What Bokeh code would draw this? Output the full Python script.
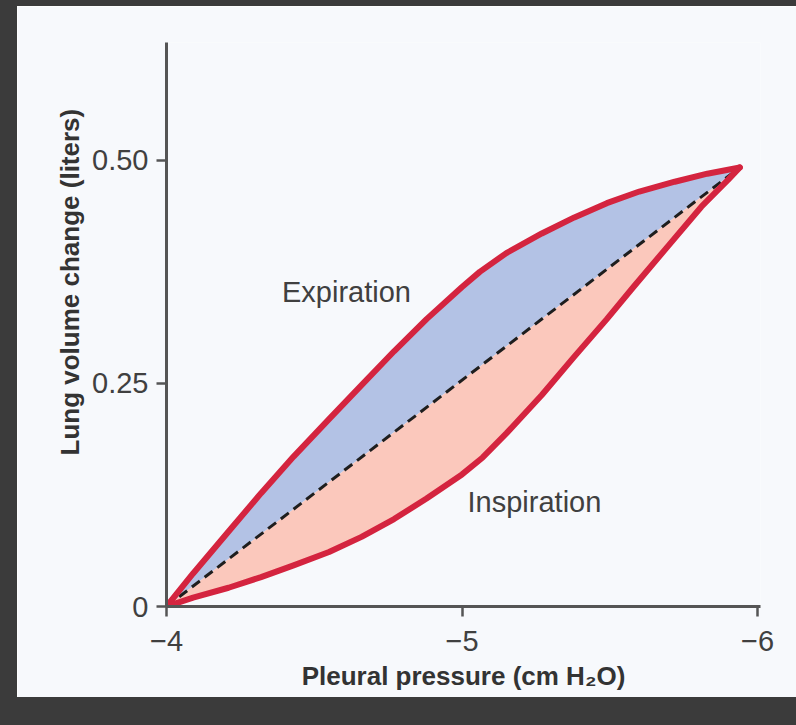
from bokeh.plotting import figure
from bokeh.models import Range1d, FixedTicker, Label, Spacer, Title
from bokeh.layouts import row, column
from bokeh.embed import file_html
from bokeh.resources import INLINE

# ---- data ----
# Expiration branch (upper loop), pleural pressure (cm H2O) vs lung volume change (L)
exp_x = [-4.00, -4.09, -4.21, -4.32, -4.43, -4.55, -4.66, -4.77, -4.88, -5.00,
         -5.06, -5.15, -5.27, -5.38, -5.49, -5.60, -5.72, -5.83, -5.94]
exp_y = [0.000, 0.037, 0.084, 0.127, 0.168, 0.210, 0.248, 0.286, 0.322, 0.358,
         0.375, 0.396, 0.418, 0.436, 0.452, 0.465, 0.476, 0.485, 0.492]
# Inspiration branch (lower loop)
insp_x = [-4.00, -4.09, -4.21, -4.32, -4.43, -4.55, -4.66, -4.77, -4.88, -5.00,
          -5.07, -5.15, -5.27, -5.38, -5.49, -5.58, -5.70, -5.81, -5.90, -5.94]
insp_y = [0.000, 0.010, 0.021, 0.033, 0.046, 0.061, 0.078, 0.098, 0.121, 0.148,
          0.167, 0.194, 0.237, 0.280, 0.322, 0.358, 0.405, 0.448, 0.478, 0.492]

x_ticks = [-4, -5, -6]
x_tick_labels = ["\u22124", "\u22125", "\u22126"]
y_ticks = [0, 0.25, 0.5]
y_tick_labels = ["0", "0.25", "0.50"]

x_title = "Pleural pressure (cm H\u2082O)"
y_title = "Lung volume change (liters)"
label_exp = "Expiration"
label_insp = "Inspiration"

# ---- style ----
PANEL = "#f7f9fc"
DARK = "#3b3b3b"
RED = "#d4243f"
BLUE = "#b3c2e5"
PINK = "#fbc8bc"
AXIS = "#555555"
TXT = "#404040"
FONT = "Liberation Sans"

p = figure(width=779, height=691, output_backend="svg", toolbar_location=None,
           x_range=Range1d(-4, -6.01), y_range=Range1d(0, 0.632),
           min_border_left=149, min_border_right=36, min_border_top=36, min_border_bottom=91,
           background_fill_color=PANEL, border_fill_color=PANEL, outline_line_color=None)
p.grid.visible = False

# filled halves of the loop (closed back along the straight chord)
p.patch(exp_x + [exp_x[0]], exp_y + [exp_y[0]], fill_color=BLUE, line_color=None)
p.patch(insp_x + [insp_x[0]], insp_y + [insp_y[0]], fill_color=PINK, line_color=None)

# dashed chord
p.line([exp_x[0], exp_x[-1]], [exp_y[0], exp_y[-1]], line_color="#1e1e1e",
       line_width=3, line_dash="10 6")

# red boundary curves
p.line(exp_x, exp_y, line_color=RED, line_width=6, line_join="round", line_cap="round")
p.line(insp_x, insp_y, line_color=RED, line_width=6, line_join="round", line_cap="round")

# axes
for ax in (p.xaxis[0], p.yaxis[0]):
    ax.axis_line_color = AXIS
    ax.axis_line_width = 3
    ax.major_tick_line_color = AXIS
    ax.major_tick_line_width = 2.5
    ax.major_tick_in = 0
    ax.major_tick_out = 10
    ax.minor_tick_line_color = None
    ax.major_label_text_font = FONT
    ax.major_label_text_font_size = "29px"
    ax.major_label_text_color = TXT

p.xaxis.ticker = FixedTicker(ticks=x_ticks)
p.xaxis.major_label_overrides = dict(zip(x_ticks, x_tick_labels))
p.xaxis.major_label_standoff = 14
p.xaxis.axis_label = x_title
p.xaxis.axis_label_text_font = FONT
p.xaxis.axis_label_text_font_style = "bold"
p.xaxis.axis_label_text_font_size = "26px"
p.xaxis.axis_label_text_color = "#333333"
p.xaxis.axis_label_standoff = 7

p.yaxis.ticker = FixedTicker(ticks=y_ticks)
p.yaxis.major_label_overrides = dict(zip(y_ticks, y_tick_labels))
p.yaxis.major_label_standoff = 8

# y-axis title (placed off-centre, as in the reference)
p.add_layout(Title(text=y_title, align="left", offset=151,
                   text_font=FONT, text_font_style="bold", text_font_size="26px",
                   text_color="#333333"), "left")

p.add_layout(Label(x=-4.609, y=0.352, text=label_exp, text_align="center",
                   text_baseline="middle", text_font=FONT, text_font_size="29px",
                   text_color=TXT))
p.add_layout(Label(x=-5.245, y=0.117, text=label_insp, text_align="center",
                   text_baseline="middle", text_font=FONT, text_font_size="29px",
                   text_color=TXT))

top_strip = Spacer(width=796, height=6, styles={"background-color": DARK})
left_strip = Spacer(width=17, height=691, styles={"background-color": DARK})
bottom_strip = Spacer(width=796, height=28, styles={"background-color": DARK})
layout = column(top_strip, row(left_strip, p, spacing=0), bottom_strip, spacing=0)

open("out.html", "w").write(file_html(layout, INLINE))
